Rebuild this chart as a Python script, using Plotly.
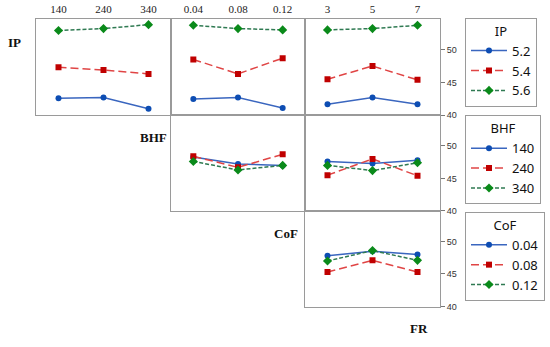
import plotly.graph_objects as go

# ---------------- data ----------------
bhf_levels = ["140", "240", "340"]
cof_levels = ["0.04", "0.08", "0.12"]
fr_levels = ["3", "5", "7"]
ip_levels = ["5.2", "5.4", "5.6"]

# Row 1: IP as trace (vs BHF, CoF, FR)
ip_vs_bhf = [[42.6, 42.7, 41.0], [47.3, 46.9, 46.3], [52.9, 53.2, 53.8]]
ip_vs_cof = [[42.5, 42.7, 41.1], [48.5, 46.3, 48.7], [53.7, 53.2, 53.0]]
ip_vs_fr = [[41.7, 42.7, 41.7], [45.5, 47.5, 45.4], [53.0, 53.2, 53.7]]
# Row 2: BHF as trace (vs CoF, FR)
bhf_vs_cof = [[48.3, 47.2, 47.0], [48.4, 46.7, 48.7], [47.6, 46.3, 47.0]]
bhf_vs_fr = [[47.6, 47.3, 47.8], [45.5, 48.0, 45.4], [47.0, 46.2, 47.4]]
# Row 3: CoF as trace (vs FR)
cof_vs_fr = [[47.8, 48.5, 48.0], [45.3, 47.1, 45.3], [47.0, 48.6, 47.1]]

y_ticks = [40, 45, 50]

# ---------------- styles ----------------
W, H = 550, 347
line_cols = ["#3a66bf", "#e04545", "#2f7a52"]
mark_cols = ["#0d4db3", "#c00000", "#0a8a1a"]
dashes = ["solid", "8px,4px", "4px,2px"]
symbols = ["circle", "square", "diamond"]
msize = [6, 6, 7]

cols = [(36, 171), (171, 305), (305, 440)]
rows = [(19, 117), (117, 214), (214, 311)]
def xd(c):
    return [cols[c][0] / W, cols[c][1] / W]
def yd(r):
    return [1 - rows[r][1] / H, 1 - rows[r][0] / H]

panels = [
    # (row, col, data, trace levels, x tick labels, legend name)
    (0, 0, ip_vs_bhf, ip_levels, bhf_levels, "legend"),
    (0, 1, ip_vs_cof, ip_levels, cof_levels, "legend"),
    (0, 2, ip_vs_fr, ip_levels, fr_levels, "legend"),
    (1, 1, bhf_vs_cof, bhf_levels, cof_levels, "legend2"),
    (1, 2, bhf_vs_fr, bhf_levels, fr_levels, "legend2"),
    (2, 2, cof_vs_fr, cof_levels, fr_levels, "legend3"),
]

fig = go.Figure()
layout = {}
shown = set()
for i, (r, c, data, levels, xlabels, leg) in enumerate(panels):
    n = i + 1
    xa = "x" if n == 1 else f"x{n}"
    ya = "y" if n == 1 else f"y{n}"
    for k in range(3):
        fig.add_trace(go.Scatter(
            x=[1, 2, 3], y=data[k], xaxis=xa, yaxis=ya,
            mode="lines+markers", name=levels[k],
            legend=leg, showlegend=(leg, k) not in shown,
            line=dict(color=line_cols[k], width=1.5, dash=dashes[k]),
            marker=dict(color=mark_cols[k], size=msize[k], symbol=symbols[k]),
        ))
        shown.add((leg, k))
    xkey = "xaxis" if n == 1 else f"xaxis{n}"
    ykey = "yaxis" if n == 1 else f"yaxis{n}"
    layout[xkey] = dict(
        domain=xd(c), anchor=ya, range=[0.5, 3.5],
        tickvals=[1, 2, 3], ticktext=xlabels,
        showticklabels=(r == 0), side="top", ticks="",
        tickfont=dict(family="Liberation Serif", size=11, color="#222"),
        showgrid=False, zeroline=False,
        showline=True, mirror=True, linecolor="#9a9a9a", linewidth=1,
    )
    layout[ykey] = dict(
        domain=yd(r), anchor=xa, range=[40, 54.7],
        tickvals=y_ticks, showticklabels=(c == 2), side="right",
        ticks="outside" if c == 2 else "", ticklen=4, tickcolor="#777",
        tickfont=dict(family="Liberation Sans", size=9, color="#333"),
        showgrid=False, zeroline=False,
        showline=True, mirror=True, linecolor="#9a9a9a", linewidth=1,
    )

leg_common = dict(
    bordercolor="#9a9a9a", borderwidth=1, bgcolor="white",
    font=dict(family="Noto Sans", size=13, color="#111"),
    xanchor="left", yanchor="top", tracegroupgap=0,
    itemwidth=36,
)
title_font = dict(family="Noto Sans", size=13, color="#111")
layout["legend"] = dict(leg_common, x=465 / W, y=1 - 18 / H,
                        title=dict(text="IP", side="top center", font=title_font))
layout["legend2"] = dict(leg_common, x=465 / W, y=1 - 117 / H,
                         title=dict(text="BHF", side="top center", font=title_font))
layout["legend3"] = dict(leg_common, x=465 / W, y=1 - 215 / H,
                         title=dict(text="CoF", side="top center", font=title_font))

labels = [("IP", 14, 43), ("BHF", 153, 140), ("CoF", 286, 237), ("FR", 419, 333)]
annotations = []
for txt, px, py in labels:
    annotations.append(dict(
        text=f"<b>{txt}</b>", x=px / W, y=1 - py / H, xref="paper", yref="paper",
        showarrow=False, xanchor="center", yanchor="middle",
        font=dict(family="Liberation Serif", size=13, color="#111"),
    ))

fig.update_layout(
    width=W, height=H, margin=dict(l=0, r=0, t=0, b=0),
    paper_bgcolor="white", plot_bgcolor="white",
    annotations=annotations, **layout,
)

fig.write_html("out.html", config={"displayModeBar": False},
               post_script="document.body.style.margin='0';")
